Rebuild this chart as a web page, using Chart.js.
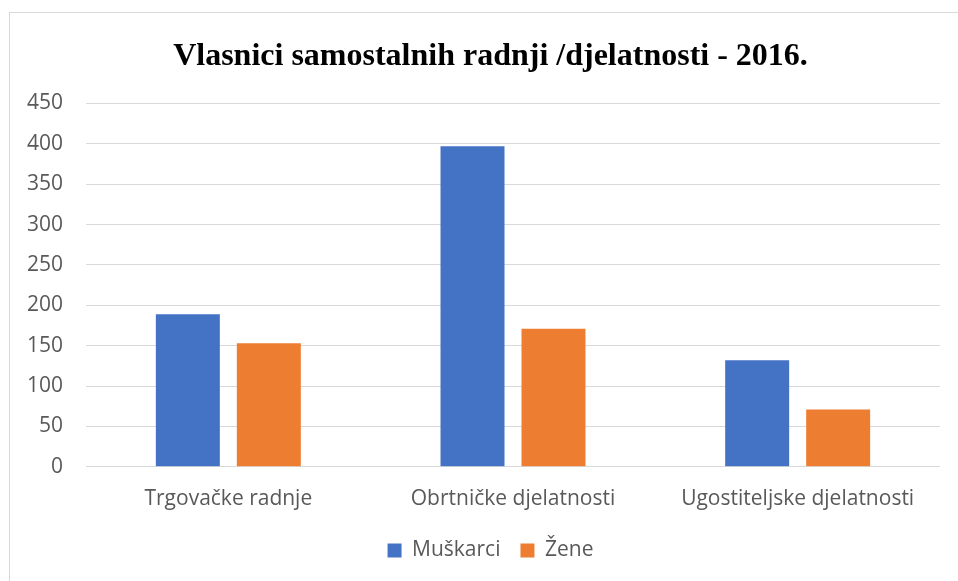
<!DOCTYPE html>
<html>
<head>
<meta charset="utf-8">
<script src="https://cdn.jsdelivr.net/npm/chart.js@4/dist/chart.umd.min.js"></script>
<style>
    body { margin: 0; background: #fff; overflow: hidden; width: 958px; height: 581px; }
    #frame { position: absolute; left: 9px; top: 12px; width: 1000px; height: 620px; border: 1px solid #d9d9d9; }
    #chart { position: absolute; left: 0; top: 0; }
</style>
</head>
<body>
<div id="frame"></div>
<canvas id="chart" width="981" height="581"></canvas>
<script>
// values
var categories = ['Trgovačke radnje', 'Obrtničke djelatnosti', 'Ugostiteljske djelatnosti'];
var muskarci = [189, 397, 132];
var zene = [153, 171, 71];
var yTicks = [0, 50, 100, 150, 200, 250, 300, 350, 400, 450];

var textGray = '#595959';
var gridGray = '#d9d9d9';

var ctx = document.getElementById('chart');
var myChart = new Chart(ctx, {
    type: 'bar',
    data: {
        labels: categories,
        datasets: [{
            label: 'Muškarci',
            data: muskarci,
            backgroundColor: '#4472C4',
            categoryPercentage: 0.569,
            barPercentage: 0.79
        },
        {
            label: 'Žene',
            data: zene,
            backgroundColor: '#ED7D31',
            categoryPercentage: 0.569,
            barPercentage: 0.79
        }]
    },
    options: {
        responsive: false,
        animation: false,
        layout: {
            padding: {left: 0, right: 0, top: 0, bottom: 10}
        },
        plugins: {
            title: {
                display: true,
                text: 'Vlasnici samostalnih radnji /djelatnosti - 2016.',
                color: '#000',
                font: {family: '"Liberation Serif", "Times New Roman", serif', size: 32, weight: 'bold'},
                padding: {top: 38, bottom: 27}
            },
            legend: {
                position: 'bottom',
                labels: {
                    color: textGray,
                    font: {family: '"Open Sans", sans-serif', size: 21},
                    boxWidth: 14,
                    boxHeight: 14,
                    padding: 20
                }
            },
            tooltip: {enabled: false}
        },
        scales: {
            x: {
                afterFit: function (scale) {
                    scale.height = scale.height - 12;
                },
                grid: {display: false, drawTicks: false},
                border: {display: false},
                ticks: {
                    color: textGray,
                    font: {family: '"Open Sans", sans-serif', size: 21},
                    padding: 20,
                    maxRotation: 0
                }
            },
            y: {
                min: 0,
                max: 450,
                afterFit: function (scale) {
                    scale.width = 86;
                },
                afterBuildTicks: function (scale) {
                    scale.ticks = yTicks.map(function (v) { return {value: v}; });
                },
                grid: {color: gridGray, lineWidth: 1, drawTicks: false},
                border: {display: false},
                ticks: {
                    color: textGray,
                    font: {family: '"Open Sans", sans-serif', size: 21},
                    padding: 23
                }
            },
            // empty right-hand space so that title and legend centre like the original
            yRight: {
                position: 'right',
                min: 0,
                max: 450,
                afterFit: function (scale) {
                    scale.width = 41;
                },
                grid: {display: false, drawTicks: false},
                border: {display: false},
                ticks: {display: false}
            }
        }
    }
});
</script>
</body>
</html>
